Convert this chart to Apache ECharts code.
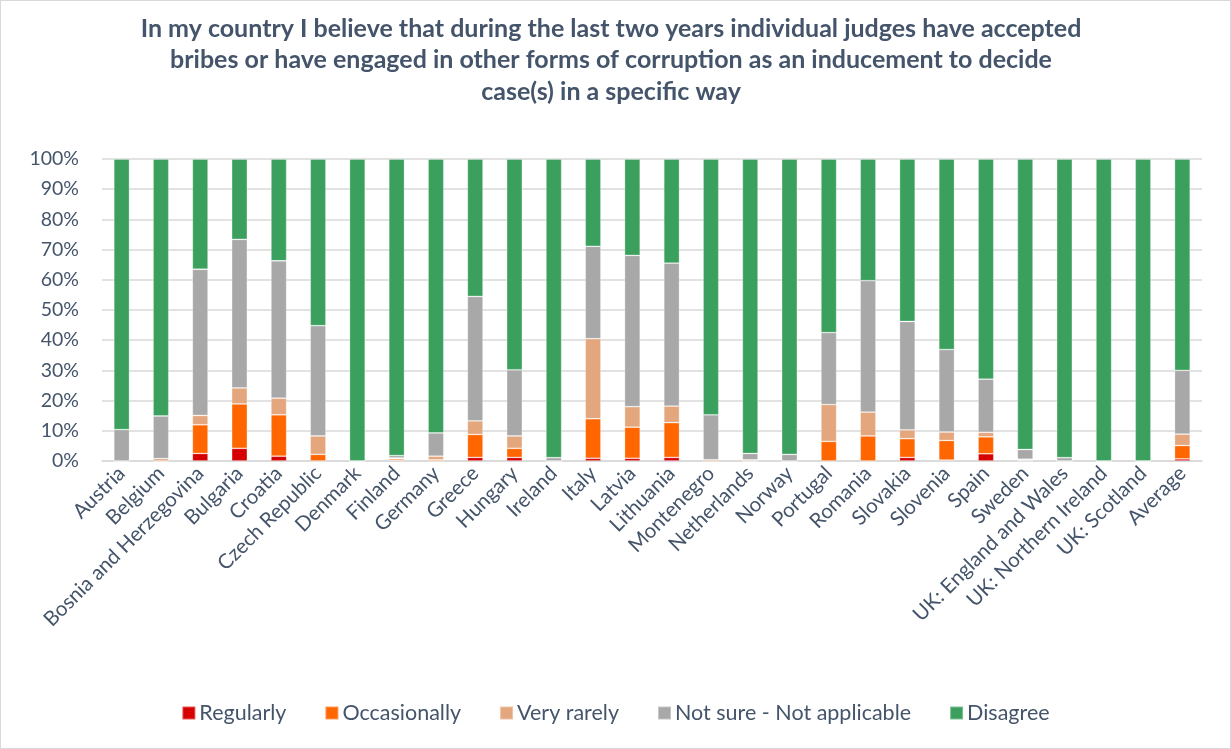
<!DOCTYPE html>
<html>
<head>
<meta charset="utf-8">
<script src="https://cdn.jsdelivr.net/npm/echarts@6/dist/echarts.min.js"></script>
<style>
html,body{margin:0;padding:0;background:#fff;}
#chart{position:absolute;left:0;top:0;width:1229px;height:747px;border:1px solid #D9D9D9;}
</style>
</head>
<body>
<div id="chart"></div>
<script>
const categories = ["Austria","Belgium","Bosnia and Herzegovina","Bulgaria","Croatia","Czech Republic","Denmark","Finland","Germany","Greece","Hungary","Ireland","Italy","Latvia","Lithuania","Montenegro","Netherlands","Norway","Portugal","Romania","Slovakia","Slovenia","Spain","Sweden","UK: England and Wales","UK: Northern Ireland","UK: Scotland","Average"];
const regularly    = [0, 0, 2.5, 4.2, 1.6, 0, 0, 0.3, 0, 1.2, 1.2, 0, 0.9, 0.9, 1.2, 0, 0, 0, 0, 0, 1.2, 0.3, 2.4, 0, 0, 0, 0, 0.7];
const occasionally = [0, 0, 9.5, 14.7, 13.7, 2.2, 0, 0.5, 0.4, 7.6, 3.0, 0, 13.1, 10.3, 11.5, 0.4, 0, 0, 6.5, 8.3, 6.2, 6.5, 5.6, 0.3, 0, 0, 0, 4.4];
const veryRarely   = [0, 0.8, 3.1, 5.3, 5.5, 6.1, 0, 0.2, 1.2, 4.5, 4.1, 0, 26.5, 6.8, 5.5, 0, 0.4, 0, 12.2, 7.9, 2.9, 2.8, 1.5, 0.3, 0, 0, 0, 3.8];
const notSure      = [10.4, 14.1, 48.4, 49.2, 45.5, 36.5, 0, 0.8, 7.7, 41.2, 21.9, 1.1, 30.6, 50.1, 47.3, 14.9, 2.1, 2.2, 23.8, 43.5, 35.9, 27.3, 17.6, 3.2, 1.1, 0, 0, 21.1];
const disagree     = [89.6, 85.1, 36.5, 26.6, 33.7, 55.2, 100, 98.2, 90.7, 45.5, 69.8, 98.9, 28.9, 31.9, 34.5, 84.7, 97.5, 97.8, 57.5, 40.3, 53.8, 63.1, 72.9, 96.2, 98.9, 100, 100, 70.0];
const yTicks = [0,10,20,30,40,50,60,70,80,90,100];

const seriesNames = ["Regularly","Occasionally","Very rarely","Not sure - Not applicable","Disagree"];
const seriesData = [regularly, occasionally, veryRarely, notSure, disagree];
const colors = ["#D60000","#FF6600","#E4A67C","#A8A8A8","#3BA05D"];

const chart = echarts.init(document.getElementById('chart'));
const font = 'Lato, "Open Sans", sans-serif';
const txt = '#44546A';
chart.setOption({
  animation: false,
  color: colors,
  title: {
    text: "In my country I believe that during the last two years individual judges have accepted\nbribes or have engaged in other forms of corruption as an inducement to decide\ncase(s) in a specific way",
    left: 605, top: 7, textAlign: 'center',
    textStyle: {fontFamily: font, fontWeight: 'bold', fontSize: 25, color: txt, lineHeight: 31.5}
  },
  legend: {
    bottom: 19, left: 'center',
    itemWidth: 13, itemHeight: 13, itemGap: 38, icon: 'rect',
    textStyle: {fontFamily: font, fontSize: 21.5, color: txt, padding: [0,0,0,-1]},
    data: seriesNames
  },
  grid: {left: 101, right: 28, top: 158, bottom: 287, containLabel: false},
  xAxis: {
    type: 'category', data: categories,
    axisTick: {show: false},
    axisLine: {lineStyle: {color: '#D9D9D9', width: 1.5}},
    axisLabel: {rotate: 45, interval: 0, fontFamily: font, fontSize: 20.5, color: txt, margin: 9}
  },
  yAxis: {
    type: 'value', min: 0, max: 100, interval: 10,
    axisLabel: {formatter: v => yTicks.includes(v) ? v + '%' : '', fontFamily: font, fontSize: 19.5, color: txt, margin: 23},
    splitLine: {lineStyle: {color: '#D9D9D9', width: 1.5}},
    axisLine: {show: false}, axisTick: {show: false}
  },
  series: seriesNames.map((n, i) => ({
    name: n, type: 'bar', stack: 'total', barWidth: '40%',
    data: seriesData[i],
    itemStyle: {borderColor: 'rgba(255,255,255,0.35)', borderWidth: 0.8}
  }))
});
</script>
</body>
</html>
